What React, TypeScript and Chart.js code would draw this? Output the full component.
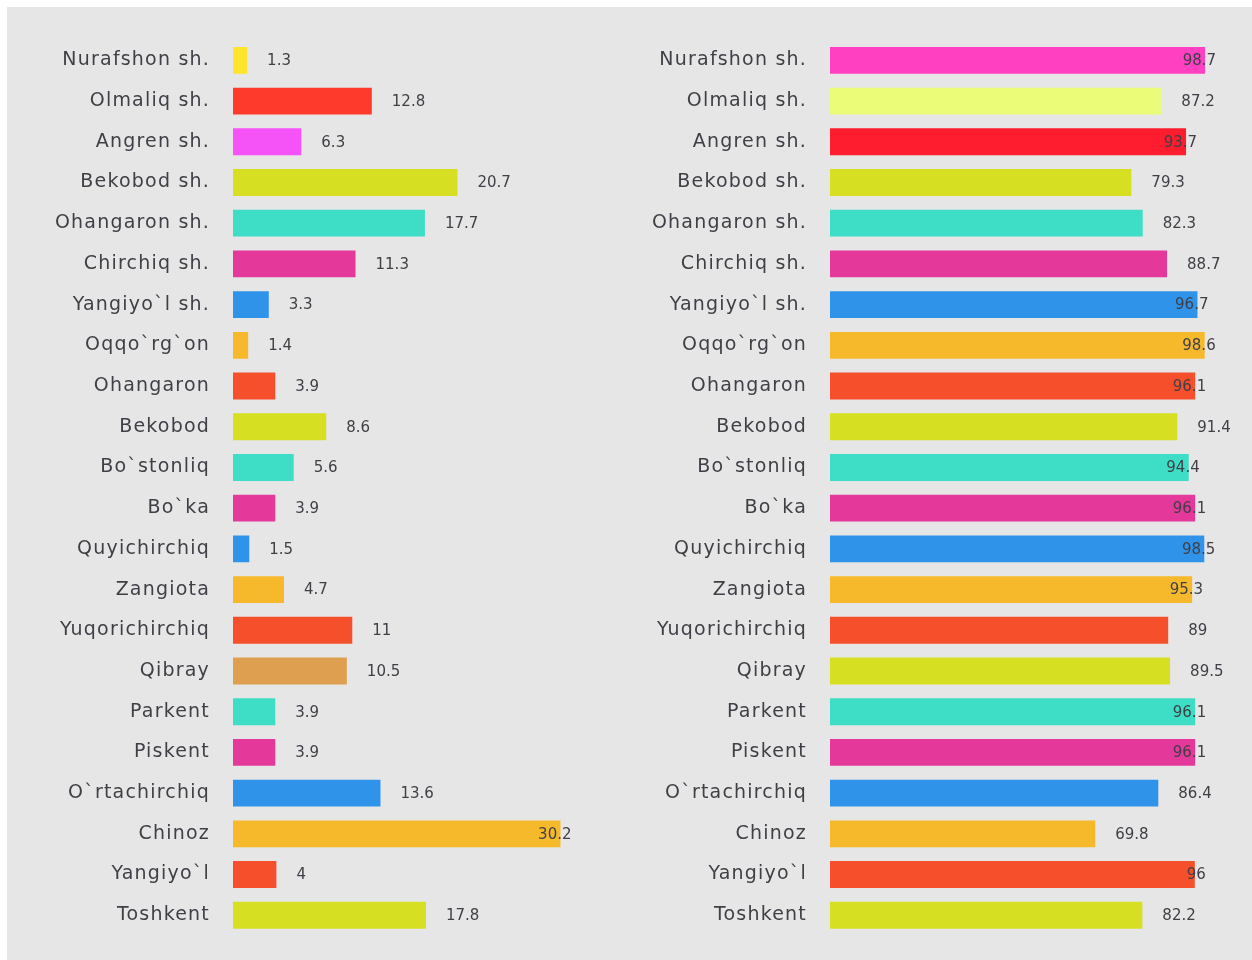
import React, { useEffect, useRef } from "react";
import { Chart, registerables } from "chart.js";

Chart.register(...registerables);

const categories = [
  "Nurafshon sh.", "Olmaliq sh.", "Angren sh.", "Bekobod sh.", "Ohangaron sh.",
  "Chirchiq sh.", "Yangiyo`l sh.", "Oqqo`rg`on", "Ohangaron", "Bekobod",
  "Bo`stonliq", "Bo`ka", "Quyichirchiq", "Zangiota", "Yuqorichirchiq",
  "Qibray", "Parkent", "Piskent", "O`rtachirchiq", "Chinoz", "Yangiyo`l", "Toshkent",
];

const leftValues = [1.3, 12.8, 6.3, 20.7, 17.7, 11.3, 3.3, 1.4, 3.9, 8.6, 5.6, 3.9, 1.5, 4.7, 11, 10.5, 3.9, 3.9, 13.6, 30.2, 4, 17.8];
const rightValues = [98.7, 87.2, 93.7, 79.3, 82.3, 88.7, 96.7, 98.6, 96.1, 91.4, 94.4, 96.1, 98.5, 95.3, 89, 89.5, 96.1, 96.1, 86.4, 69.8, 96, 82.2];

const leftColors = [
  "#ffe52b", "#fe3a2c", "#f552f7", "#d7df22", "#3ddec5", "#e4399a", "#2f93ea", "#f6b92b",
  "#f64f2b", "#d7df22", "#3ddec5", "#e4399a", "#2f93ea", "#f6b92b", "#f64f2b", "#df9f50",
  "#3ddec5", "#e4399a", "#2f93ea", "#f6b92b", "#f64f2b", "#d7df22",
];
const rightColors = [
  "#fe40c1", "#ebfd78", "#fe1d2e", "#d7df22", "#3ddec5", "#e4399a", "#2f93ea", "#f6b92b",
  "#f64f2b", "#d7df22", "#3ddec5", "#e4399a", "#2f93ea", "#f6b92b", "#f64f2b", "#d7df22",
  "#3ddec5", "#e4399a", "#2f93ea", "#f6b92b", "#f64f2b", "#d7df22",
];

const TEXT = "#3f3f46";
const FONT = "'DejaVu Sans', 'Noto Sans', sans-serif";

const spacing = {
  id: "spacing",
  beforeDraw(chart: any) {
    chart.ctx.letterSpacing = "1.2px";
  },
  afterDraw(chart: any) {
    chart.ctx.letterSpacing = "0px";
  },
};

const valueLabels = {
  id: "valueLabels",
  afterDatasetsDraw(chart: any) {
    const ctx = chart.ctx;
    const area = chart.chartArea;
    const meta = chart.getDatasetMeta(0);
    const data = chart.data.datasets[0].data;
    ctx.save();
    ctx.letterSpacing = "0px";
    ctx.font = `15px ${FONT}`;
    ctx.fillStyle = TEXT;
    ctx.textBaseline = "middle";
    ctx.textAlign = "left";
    meta.data.forEach((bar: any, i: number) => {
      const txt = String(data[i]);
      const w = ctx.measureText(txt).width;
      let x = bar.x + 20;
      if (x + w > area.right + 3) x = bar.x + 11 - w;
      ctx.fillText(txt, x, bar.y + 1);
    });
    ctx.restore();
  },
};

function BarPanel({ values, colors, max, left, width, padRight }: any) {
  const ref = useRef<HTMLCanvasElement>(null);
  useEffect(() => {
    const chart = new Chart(ref.current!, {
      type: "bar",
      data: {
        labels: categories,
        datasets: [
          {
            data: values,
            backgroundColor: colors,
            borderWidth: 0,
            categoryPercentage: 1,
            barPercentage: 0.66,
          },
        ],
      },
      options: {
        indexAxis: "y",
        animation: false,
        responsive: false,
        maintainAspectRatio: false,
        layout: { padding: { top: 40, bottom: 0, left: 0, right: padRight } },
        plugins: { legend: { display: false }, tooltip: { enabled: false } },
        scales: {
          x: { display: false, min: 0, max },
          y: {
            grid: { display: false, drawTicks: false },
            border: { display: false },
            ticks: { color: TEXT, font: { family: FONT, size: 19 }, padding: 23 },
            afterFit: (s: any) => {
              s.width = 213;
            },
          },
        },
      },
      plugins: [spacing, valueLabels],
    });
    return () => chart.destroy();
  }, []);
  return (
    <canvas
      ref={ref}
      width={width}
      height={970}
      style={{ position: "absolute", left, top: 0, width, height: 970 }}
    />
  );
}

export default function App() {
  useEffect(() => {
    document.body.style.margin = "0";
    document.body.style.overflow = "hidden";
  }, []);
  return (
    <div style={{ position: "relative", width: 1252, height: 960, background: "#ffffff", overflow: "hidden" }}>
      <div style={{ position: "absolute", left: 7, top: 7, width: 1245, height: 953, background: "#e6e6e6" }} />
      <BarPanel values={leftValues} colors={leftColors} max={32} left={20} width={580} padRight={20} />
      <BarPanel values={rightValues} colors={rightColors} max={105} left={617} width={623} padRight={11} />
    </div>
  );
}
